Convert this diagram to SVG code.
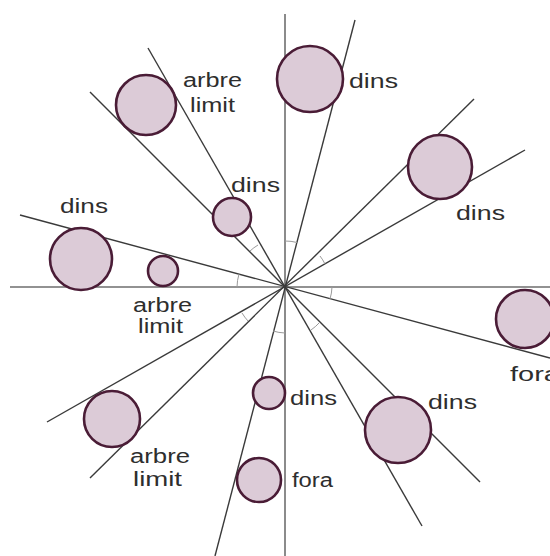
<svg xmlns="http://www.w3.org/2000/svg" width="550" height="556" viewBox="0 0 550 556">
  <style>
    .axis { stroke: #6e6e6e; stroke-width: 1.6; fill: none; }
    .ray { stroke: #3a3a3a; stroke-width: 1.4; fill: none; }
    .mark { stroke: #9a9a9a; stroke-width: 1; fill: none; }
    .ball { fill: #dccbd7; stroke: #4a1c36; stroke-width: 2.6; }
    .lbl { font-family: "Liberation Sans", Arial, sans-serif; font-size: 20px; fill: #2e2e2e; }
  </style>
  <rect width="550" height="556" fill="#ffffff"/>

  <g id="connectors">
    <!-- axes -->
    <line class="axis" x1="10" y1="287" x2="550" y2="287"/>
    <line class="axis" x1="285" y1="14" x2="285" y2="556"/>
    <!-- rays through the origin -->
    <line class="ray" x1="355" y1="20" x2="215" y2="556"/>
    <line class="ray" x1="90" y1="478" x2="474" y2="99"/>
    <line class="ray" x1="47" y1="422" x2="525" y2="150"/>
    <line class="ray" x1="148" y1="48" x2="422" y2="526"/>
    <line class="ray" x1="90" y1="92" x2="480" y2="482"/>
    <line class="ray" x1="20" y1="215" x2="550" y2="358"/>
    <!-- angle marks near the origin -->
    <path class="mark" d="M285,241 A46,46 0 0 1 297,242.5"/>
    <path class="mark" d="M320,256 A46,46 0 0 1 325,264"/>
    <path class="mark" d="M250,251 A50,50 0 0 1 258,245"/>
    <path class="mark" d="M237,287 A48,48 0 0 1 239,274"/>
    <path class="mark" d="M332,287 A47,47 0 0 1 330,299"/>
    <path class="mark" d="M248,321 A50,50 0 0 1 242,313"/>
    <path class="mark" d="M320,322 A50,50 0 0 1 311,330"/>
    <path class="mark" d="M285,333 A46,46 0 0 1 273,331"/>
  </g>

  <g id="ball-top-left">
    <circle class="ball" cx="146" cy="105" r="30"/>
    <text class="lbl" x="183" y="87" textLength="59" lengthAdjust="spacingAndGlyphs">arbre</text>
    <text class="lbl" x="190" y="112" textLength="45" lengthAdjust="spacingAndGlyphs">limit</text>
  </g>
  <g id="ball-top">
    <circle class="ball" cx="310" cy="79" r="33"/>
    <text class="lbl" x="349" y="88" textLength="49" lengthAdjust="spacingAndGlyphs">dins</text>
  </g>
  <g id="ball-top-right">
    <circle class="ball" cx="440" cy="167" r="32"/>
    <text class="lbl" x="456" y="220" textLength="49" lengthAdjust="spacingAndGlyphs">dins</text>
  </g>
  <g id="ball-mid">
    <circle class="ball" cx="232" cy="217" r="19"/>
    <text class="lbl" x="231" y="192" textLength="49" lengthAdjust="spacingAndGlyphs">dins</text>
  </g>
  <g id="ball-left">
    <circle class="ball" cx="81" cy="259" r="31"/>
    <text class="lbl" x="60" y="213" textLength="48" lengthAdjust="spacingAndGlyphs">dins</text>
  </g>
  <g id="ball-left-small">
    <circle class="ball" cx="163" cy="271" r="15"/>
    <text class="lbl" x="133" y="312" textLength="59" lengthAdjust="spacingAndGlyphs">arbre</text>
    <text class="lbl" x="138" y="333" textLength="45" lengthAdjust="spacingAndGlyphs">limit</text>
  </g>
  <g id="ball-right">
    <circle class="ball" cx="525" cy="319" r="29"/>
    <text class="lbl" x="510" y="381" textLength="50" lengthAdjust="spacingAndGlyphs">fora</text>
  </g>
  <g id="ball-bottom-left">
    <circle class="ball" cx="112" cy="419" r="28"/>
    <text class="lbl" x="130" y="463" textLength="60" lengthAdjust="spacingAndGlyphs">arbre</text>
    <text class="lbl" x="133" y="486" textLength="49" lengthAdjust="spacingAndGlyphs">limit</text>
  </g>
  <g id="ball-bottom-small">
    <circle class="ball" cx="269" cy="393" r="16"/>
    <text class="lbl" x="290" y="405" textLength="47" lengthAdjust="spacingAndGlyphs">dins</text>
  </g>
  <g id="ball-bottom">
    <circle class="ball" cx="259" cy="480" r="22"/>
    <text class="lbl" x="292" y="487" textLength="41" lengthAdjust="spacingAndGlyphs">fora</text>
  </g>
  <g id="ball-bottom-right">
    <circle class="ball" cx="398" cy="430" r="33"/>
    <text class="lbl" x="428" y="409" textLength="49" lengthAdjust="spacingAndGlyphs">dins</text>
  </g>
</svg>
